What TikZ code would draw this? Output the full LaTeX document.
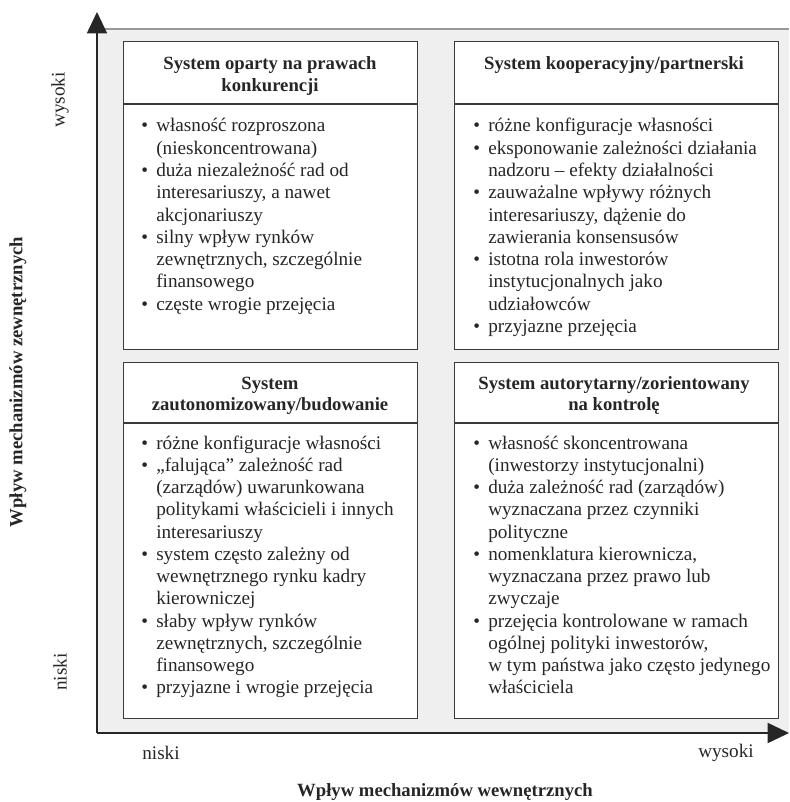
\documentclass[tikz,border=0pt]{standalone}
\usepackage{fontspec}
\setmainfont{Liberation Serif}
\usetikzlibrary{arrows.meta}
\definecolor{bgfill}{HTML}{EFEFEF}
\definecolor{bgline}{HTML}{999999}
\definecolor{ink}{HTML}{262626}
\definecolor{boxline}{HTML}{3A3A3A}
\newcommand\bitem[1]{\makebox[11.25pt][l]{•}#1}
\newcommand\bcont[1]{\hspace*{11.25pt}#1}
\newcommand\bodytext[1]{\parbox[t]{235pt}{\raggedright #1}}
\newcommand\titletext[1]{\parbox[t]{240pt}{\centering #1}}
\tikzset{
  qbox/.style={draw=boxline, line width=0.9pt, fill=white, anchor=north west, inner sep=0pt},
  divider/.style={draw=boxline, line width=0.9pt},
  qtitle/.style={text=ink, font=\fontsize{14}{15.8}\selectfont\bfseries, anchor=base, inner sep=0pt},
  qbody/.style={text=ink, font=\fontsize{14.4}{16.7}\selectfont, anchor=base west, inner sep=0pt},
  axislabel/.style={text=ink, font=\fontsize{14.4}{16.7}\selectfont, inner sep=0pt},
  axistitle/.style={text=ink, font=\fontsize{14}{16}\selectfont\bfseries, inner sep=0pt},
  axisline/.style={draw=ink, line width=1.3pt, -{Triangle[length=16pt, width=15pt]}}
}
\begin{document}
\begin{tikzpicture}[x=0.75pt, y=-0.75pt]
\useasboundingbox (0,0) rectangle (789,802);
% background panel
\fill[bgfill] (97,29) rectangle (789,733);
\draw[bgline, line width=1.2pt] (97,29) -- (789,29);

% boxes
\node[qbox, minimum width=220.5pt, minimum height=231pt] (tl) at (123,41) {};
\node[qbox, minimum width=243pt, minimum height=231pt] (tr) at (454,41) {};
\node[qbox, minimum width=220.5pt, minimum height=267pt] (bl) at (123,362) {};
\node[qbox, minimum width=243pt, minimum height=267pt] (br) at (454,362) {};

% title dividers
\draw[divider] (tl.west |- 0,104) -- (tl.east |- 0,104);
\draw[divider] (tr.west |- 0,104) -- (tr.east |- 0,104);
\draw[divider] (bl.west |- 0,423) -- (bl.east |- 0,423);
\draw[divider] (br.west |- 0,423) -- (br.east |- 0,423);

% titles
\node[qtitle] (tlt) at (270,70) {\titletext{System oparty na prawach\\konkurencji}};
\node[qtitle] (trt) at (614,70) {\titletext{System kooperacyjny/partnerski}};
\node[qtitle] (blt) at (270,389) {\titletext{System\\zautonomizowany/budowanie}};
\node[qtitle] (brt) at (614,389) {\titletext{System autorytarny/zorientowany\\na kontrolę}};

% bodies
\node[qbody] (tlb) at (141,132) {\bodytext{%
\bitem{własność rozproszona}\\
\bcont{(nieskoncentrowana)}\\
\bitem{duża niezależność rad od}\\
\bcont{interesariuszy, a nawet}\\
\bcont{akcjonariuszy}\\
\bitem{silny wpływ rynków}\\
\bcont{zewnętrznych, szczególnie}\\
\bcont{finansowego}\\
\bitem{częste wrogie przejęcia}}};

\node[qbody] (trb) at (473,132) {\bodytext{%
\bitem{różne konfiguracje własności}\\
\bitem{eksponowanie zależności działania}\\
\bcont{nadzoru – efekty działalności}\\
\bitem{zauważalne wpływy różnych}\\
\bcont{interesariuszy, dążenie do}\\
\bcont{zawierania konsensusów}\\
\bitem{istotna rola inwestorów}\\
\bcont{instytucjonalnych jako}\\
\bcont{udziałowców}\\
\bitem{przyjazne przejęcia}}};

\node[qbody] (blb) at (141,449) {\bodytext{%
\bitem{różne konfiguracje własności}\\
\bitem{„falująca” zależność rad}\\
\bcont{(zarządów) uwarunkowana}\\
\bcont{politykami właścicieli i innych}\\
\bcont{interesariuszy}\\
\bitem{system często zależny od}\\
\bcont{wewnętrznego rynku kadry}\\
\bcont{kierowniczej}\\
\bitem{słaby wpływ rynków}\\
\bcont{zewnętrznych, szczególnie}\\
\bcont{finansowego}\\
\bitem{przyjazne i wrogie przejęcia}}};

\node[qbody] (brb) at (473,449) {\bodytext{%
\bitem{własność skoncentrowana}\\
\bcont{(inwestorzy instytucjonalni)}\\
\bitem{duża zależność rad (zarządów)}\\
\bcont{wyznaczana przez czynniki}\\
\bcont{polityczne}\\
\bitem{nomenklatura kierownicza,}\\
\bcont{wyznaczana przez prawo lub}\\
\bcont{zwyczaje}\\
\bitem{przejęcia kontrolowane w ramach}\\
\bcont{ogólnej polityki inwestorów,}\\
\bcont{w tym państwa jako często jedynego}\\
\bcont{właściciela}}};

% axes
\coordinate (origin) at (97,733);
\coordinate (ytip) at (97,12);
\coordinate (xtip) at (789,733);
\draw[axisline] (origin) -- (ytip);
\draw[axisline] (origin) -- (xtip);

% axis labels
\node[axislabel, rotate=90] (yhigh) at (60,100) {wysoki};
\node[axislabel, rotate=90] (ylow) at (60,672) {niski};
\node[axislabel] (xlow) at (161,753) {niski};
\node[axislabel] (xhigh) at (726,753) {wysoki};
\node[axistitle, rotate=90] (ytitle) at (18,382) {Wpływ mechanizmów zewnętrznych};
\node[axistitle] (xtitle) at (445,792) {Wpływ mechanizmów wewnętrznych};
\end{tikzpicture}
\end{document}
